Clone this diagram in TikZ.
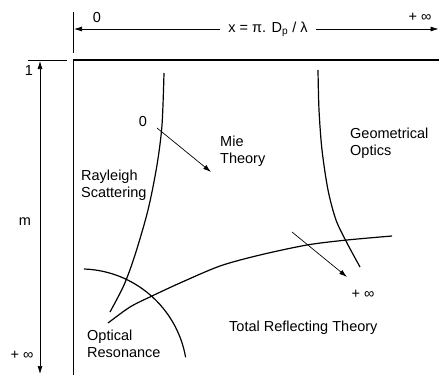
\documentclass[tikz,border=0pt]{standalone}
\usepackage{fontspec}
\setmainfont{Liberation Sans}
\usetikzlibrary{arrows.meta}

\begin{document}
\begin{tikzpicture}[x=1pt, y=-1pt, font=\fontsize{14.5}{17}\selectfont, region/.style={align=left, anchor=west, inner sep=0pt}, bound/.style={line width=1.2pt}, frame/.style={line width=0.8pt}, tip/.style={-{Latex[length=8pt,width=5pt]}, line width=0.7pt}]
\useasboundingbox (0,0) rectangle (439,375);
\coordinate (xleft) at (74,29);
\coordinate (xright) at (438.5,29);
\coordinate (mtop) at (40,61);
\coordinate (mbot) at (40,374);
\node[inner ysep=0pt, inner xsep=8pt] (xlab) at (268,29) {x = π. D\textsubscript{p} / λ};
\node (xzero) at (97,18) {0};
\node (xinf) at (420,17) {+ ∞};
\node (mone) at (29,71) {1};
\node (mlab) at (25,222) {m};
\node (minf) at (22,355) {+ ∞};
\draw[tip] (xlab.west) -- (xleft);
\draw[tip] (xlab.east) -- (xright);
\draw[tip, {Latex[length=8pt,width=5pt]}-{Latex[length=8pt,width=5pt]}] (mtop) -- (mbot);
\draw[frame] (73,12) -- (73,53);
\draw[line width=1.3pt] (73,60) -- (439,60);
\draw[frame] (28,60) -- (67,60);
\draw[line width=0.6pt] (73,60) -- (73,375);
\draw[bound] plot[smooth] coordinates {(164,73) (162,125) (157,165) (148,210) (135,255) (124,285) (110,312)};
\draw[bound] plot[smooth] coordinates {(318,70) (319,110) (322,150) (328,190) (336,220) (347,243) (360,267)};
\draw[bound] plot[smooth] coordinates {(108,323) (130,307) (152,296) (180,283) (220,266) (260,255) (307,245) (347,240) (392,236)};
\draw[bound] (84,269) arc[start angle=-88, end angle=-10, radius=107];
\node (zero) at (143,122) {0};
\coordinate (miefrom) at (157,128);
\coordinate (mieto) at (211,172);
\draw[tip] (miefrom) -- (mieto);
\coordinate (geofrom) at (292,232);
\coordinate (geoto) at (347,277);
\draw[tip] (geofrom) -- (geoto);
\node (inf) at (363,294) {+ ∞};
\node[region] (mie) at (220,151) {Mie\\Theory};
\node[region] (geo) at (350,143) {Geometrical\\Optics};
\node[region] (ray) at (81,185) {Rayleigh\\Scattering};
\node[region] (opt) at (87,344) {Optical\\Resonance};
\node[region] (total) at (229,328) {Total Reflecting Theory};
\end{tikzpicture}
\end{document}
